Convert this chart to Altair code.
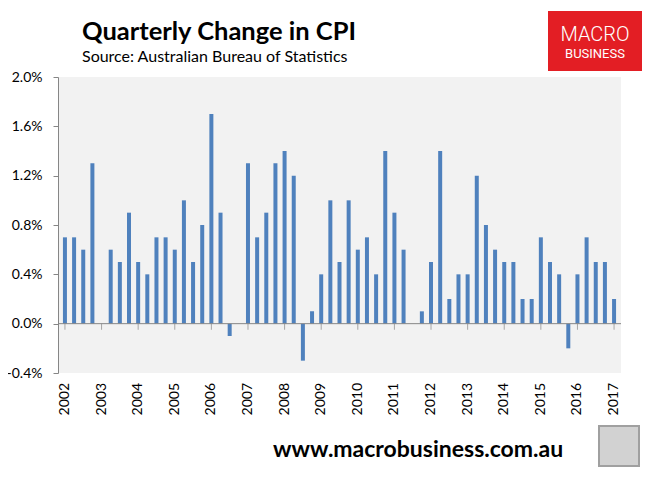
import altair as alt
import pandas as pd

# Quarterly CPI change (%), Jun-2002 .. Jun-2017
values = [0.7, 0.7, 0.6, 1.3, 0.0, 0.6, 0.5, 0.9, 0.5, 0.4, 0.7, 0.7, 0.6, 1.0, 0.5, 0.8,
          1.7, 0.9, -0.1, 0.0, 1.3, 0.7, 0.9, 1.3, 1.4, 1.2, -0.3, 0.1, 0.4, 1.0, 0.5, 1.0,
          0.6, 0.7, 0.4, 1.4, 0.9, 0.6, 0.0, 0.1, 0.5, 1.4, 0.2, 0.4, 0.4, 1.2, 0.8, 0.6,
          0.5, 0.5, 0.2, 0.2, 0.7, 0.5, 0.4, -0.2, 0.4, 0.7, 0.5, 0.5, 0.2]
years = list(range(2002, 2018))
year_labels = [str(y) for y in years]
y_ticks = [-0.004, 0.0, 0.004, 0.008, 0.012, 0.016, 0.02]

df = pd.DataFrame({
    "t": [2002 + i / 4 for i in range(len(values))],
    "v": [v / 100 for v in values],
})
ydf = pd.DataFrame({"year": years, "label": year_labels})
one = pd.DataFrame({"a": [0]})

FONT = "Lato"
GREY = "#868686"

xscale = alt.Scale(domain=[2001.947, 2017.053], nice=False, zero=False)
yscale = alt.Scale(domain=[-0.004, 0.02], nice=False, zero=False)

bars = alt.Chart(df).mark_bar(size=4, color="#4F81BD").encode(
    x=alt.X("t:Q", scale=xscale, axis=None),
    y=alt.Y("v:Q", scale=yscale,
            axis=alt.Axis(values=y_ticks, format=".1%", grid=False, title=None,
                          labelExpr="replace(datum.label, '\u2212', '-')",
                          domainColor=GREY, tickColor=GREY, tickSize=5,
                          labelPadding=11, labelFontSize=14, labelFont=FONT,
                          labelColor="#000000")),
)

zero = alt.Chart(one).mark_rule(color=GREY, strokeWidth=1).encode(
    y=alt.Y("z:Q", scale=yscale)
).transform_calculate(z="0")

yticks = alt.Chart(ydf).mark_tick(orient="vertical", size=6, thickness=1, color=GREY,
                                  yOffset=3).encode(
    x=alt.X("year:Q", scale=xscale),
    y=alt.Y("z:Q", scale=yscale),
).transform_calculate(z="0")

xlabels = alt.Chart(ydf).mark_text(
    angle=270, align="right", baseline="middle", fontSize=14, font=FONT, color="#000000"
).encode(
    x=alt.X("year:Q", scale=xscale),
    y=alt.value(306),
    text="label:N",
)

def txt(text, x, y, size, weight="normal", color="#000000", align="left", font=FONT):
    return alt.Chart(one).mark_text(
        text=text, fontSize=size, fontWeight=weight, color=color, align=align,
        baseline="alphabetic", font=font
    ).encode(x=alt.value(x), y=alt.value(y))

title = txt("Quarterly Change in CPI", 24, -37, 25.5, "bold")
subtitle = txt("Source: Australian Bureau of Statistics", 24, -15, 16)
url = txt("www.macrobusiness.com.au", 215, 380, 23, "bold")

logo_box = alt.Chart(one).mark_rect(color="#E31E24").encode(
    x=alt.value(490), x2=alt.value(584), y=alt.value(-66), y2=alt.value(-6))
macro = txt("MACRO", 537, -36, 20, 300, "#FFFFFF", "center", "Roboto")
business = txt("BUSINESS", 537, -19, 13, "normal", "#FFFFFF", "center", "Roboto")

wolf = alt.Chart(one).mark_rect(color="#D2D2D2", stroke="#A0A0A0", strokeWidth=2).encode(
    x=alt.value(541), x2=alt.value(581), y=alt.value(349), y2=alt.value(389))

chart = alt.layer(bars, zero, yticks, xlabels, title, subtitle, url, logo_box, macro,
                  business, wolf).properties(
    width=563, height=296,
    autosize=alt.AutoSizeParams(type="none"),
    padding={"left": 50, "top": 69, "right": 21, "bottom": 95},
    background="#FFFFFF",
).configure_view(fill="#F2F2F2", stroke=None)

chart.save("out.html", embed_options={"renderer": "svg", "actions": False})
